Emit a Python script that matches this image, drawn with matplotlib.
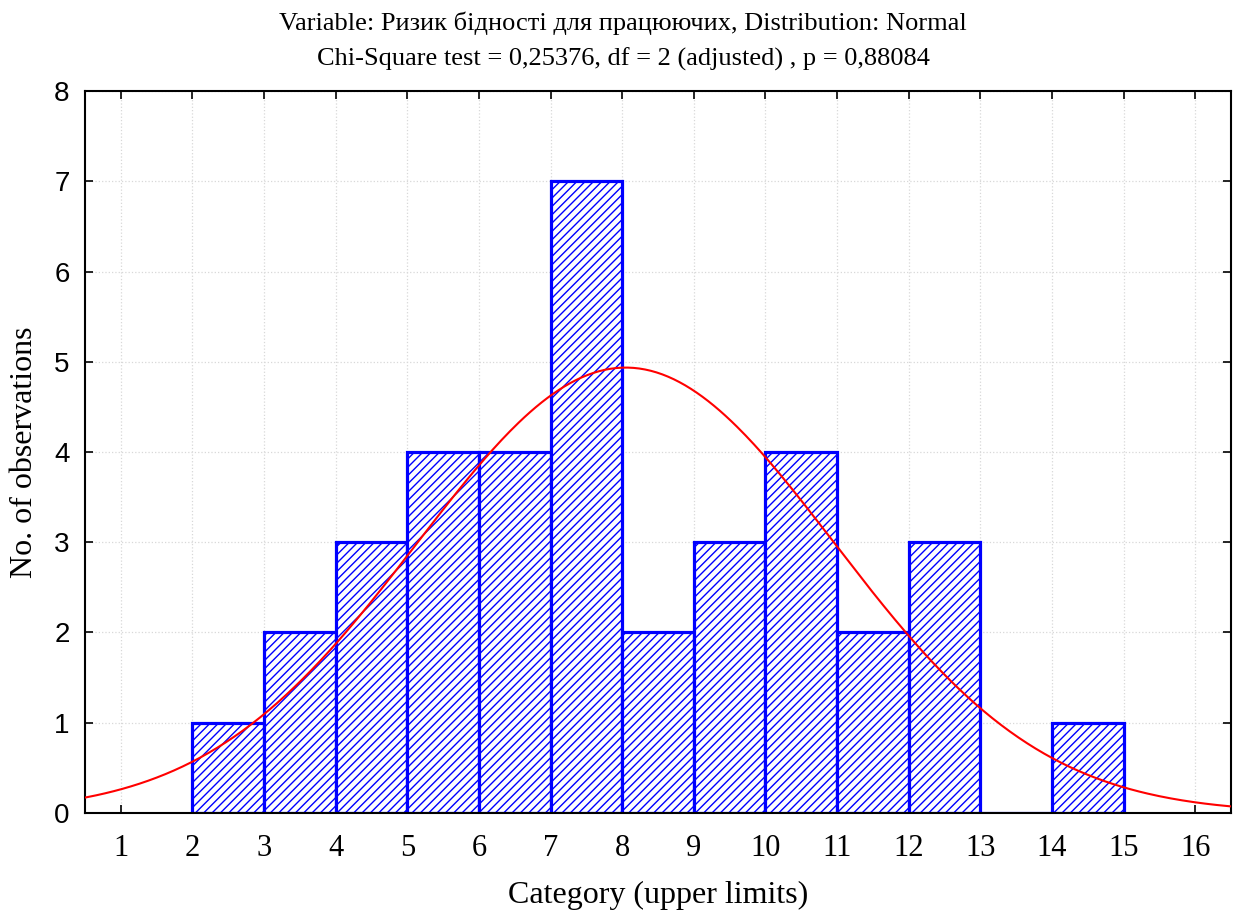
import numpy as np
import matplotlib

matplotlib.use("Agg")
import matplotlib.pyplot as plt

# Histogram of observations per category (bins of width 1, labelled by upper limit)
bin_left = [2, 3, 4, 5, 6, 7, 8, 9, 10, 11, 12, 13, 14]
counts = [1, 2, 3, 4, 4, 7, 2, 3, 4, 2, 3, 0, 1]
x_ticks = list(range(1, 17))
y_ticks = list(range(0, 9))

# Fitted normal distribution (expected counts per unit-width bin)
fit_mean = 8.05
fit_sd = 2.91
n_obs = sum(counts)
bin_width = 1.0

title_lines = [
    "Variable: Ризик бідності для працюючих, Distribution: Normal",
    "Chi-Square test = 0,25376, df = 2 (adjusted) , p = 0,88084",
]

plt.rcParams["hatch.linewidth"] = 1.0
plt.rcParams["hatch.color"] = "#0000ff"

fig = plt.figure(figsize=(12.39, 9.11), dpi=100)
ax = fig.add_axes([0.0686, 0.1076, 0.9249, 0.7925])

ax.bar(bin_left, counts, width=bin_width, align="edge", facecolor="white",
       edgecolor="#0000ff", linewidth=2.3, hatch="////", zorder=2)

xs = np.linspace(0.5, 16.5, 400)
pdf = n_obs * bin_width / (fit_sd * np.sqrt(2 * np.pi)) * np.exp(-0.5 * ((xs - fit_mean) / fit_sd) ** 2)
ax.plot(xs, pdf, color="#ff0000", linewidth=1.5, zorder=3)

ax.set_xlim(0.5, 16.5)
ax.set_ylim(0, 8)
ax.set_xticks(x_ticks)
ax.set_yticks(y_ticks)
ax.set_xticklabels([str(t) for t in x_ticks], family="Liberation Serif", fontsize=22)
ax.set_yticklabels([str(t) for t in y_ticks], family="Liberation Sans", fontsize=20)
ax.tick_params(direction="in", top=True, right=True, length=6, width=1.2)
ax.tick_params(axis="x", pad=15)
ax.tick_params(axis="y", pad=11)
for s in ax.spines.values():
    s.set_linewidth(1.5)
ax.grid(True, color="#d8d8d8", linestyle=":", linewidth=0.9, zorder=0)
ax.set_axisbelow(True)

ax.set_xlabel("Category (upper limits)", family="Liberation Serif", fontsize=23, labelpad=13)
ax.set_ylabel("No. of observations", family="Liberation Serif", fontsize=23, labelpad=11)

fig.text(0.503, 0.975, title_lines[0], ha="center", va="center",
         family="Liberation Serif", fontsize=19)
fig.text(0.503, 0.935, title_lines[1], ha="center", va="center",
         family="Liberation Serif", fontsize=19)

fig.savefig("out.png", dpi=100)
